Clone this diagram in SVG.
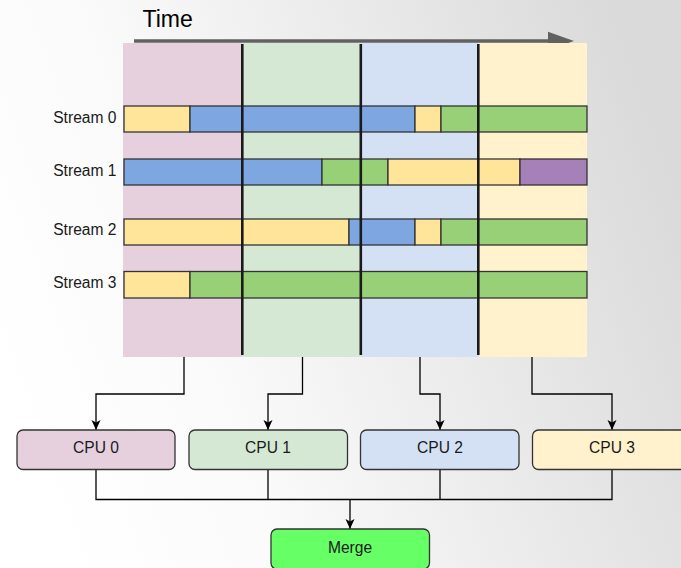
<svg xmlns="http://www.w3.org/2000/svg" width="681" height="568" viewBox="0 0 681 568">
<defs>
<linearGradient id="bg" x1="0" y1="0.65" x2="1" y2="0.35">
<stop offset="0" stop-color="#ffffff"/>
<stop offset="0.3" stop-color="#fafafa"/>
<stop offset="1" stop-color="#dadada"/>
</linearGradient>
<marker id="arr" markerWidth="10" markerHeight="10" viewBox="0 0 10 10" refX="10" refY="5" orient="auto" markerUnits="userSpaceOnUse">
<path d="M0,0.5 L10,5 L0,9.5 L2.5,5 Z" fill="#000"/>
</marker>
</defs>
<style>
.lbl{font-family:"Liberation Sans",Arial,sans-serif;font-size:15.6px;fill:#1a1a1a}
.bar{stroke:#333;stroke-width:1.3}
.y{fill:#ffe599}.b{fill:#7ea6e0}.g{fill:#97d077}.p{fill:#a680b8}
.col{stroke:#1a1a1a;stroke-width:2.6}
.box{stroke:#333;stroke-width:1.3}
.con{fill:none;stroke:#000;stroke-width:1.3}
</style>
<rect width="681" height="568" fill="url(#bg)"/>

<g id="time-axis">
<text x="142.5" y="26.5" style="font-family:'Liberation Sans',Arial,sans-serif;font-size:23px;fill:#000">Time</text>
<line x1="134" y1="41" x2="552" y2="41" stroke="#616161" stroke-width="3.5"/>
<path d="M548,31.7 L574,41 L548,50 Z" fill="#616161"/>
</g>

<g id="timeline">
<rect x="123" y="43" width="119" height="314" fill="#e6d0de"/>
<rect x="242" y="43" width="119" height="314" fill="#d5e8d4"/>
<rect x="361" y="43" width="118" height="314" fill="#d4e1f5"/>
<rect x="479" y="43" width="108" height="314" fill="#fff2cc"/>

<g id="stream0">
<text class="lbl" x="116.5" y="122.7" text-anchor="end">Stream 0</text>
<rect class="bar y" x="124" y="106" width="66" height="26"/>
<rect class="bar b" x="190" y="106" width="225" height="26"/>
<rect class="bar y" x="415" y="106" width="26" height="26"/>
<rect class="bar g" x="441" y="106" width="146" height="26"/>
</g>
<g id="stream1">
<text class="lbl" x="116.5" y="176" text-anchor="end">Stream 1</text>
<rect class="bar b" x="124" y="159" width="198" height="26"/>
<rect class="bar g" x="322" y="159" width="66" height="26"/>
<rect class="bar y" x="388" y="159" width="132" height="26"/>
<rect class="bar p" x="520" y="159" width="67" height="26"/>
</g>
<g id="stream2">
<text class="lbl" x="116.5" y="235" text-anchor="end">Stream 2</text>
<rect class="bar y" x="124" y="219" width="225" height="26"/>
<rect class="bar b" x="349" y="219" width="66" height="26"/>
<rect class="bar y" x="415" y="219" width="26" height="26"/>
<rect class="bar g" x="441" y="219" width="146" height="26"/>
</g>
<g id="stream3">
<text class="lbl" x="116.5" y="288" text-anchor="end">Stream 3</text>
<rect class="bar y" x="124" y="271.5" width="66" height="26.5"/>
<rect class="bar g" x="190" y="271.5" width="397" height="26.5"/>
</g>

<line class="col" x1="242.3" y1="44" x2="242.3" y2="355"/>
<line class="col" x1="360.8" y1="44" x2="360.8" y2="355"/>
<line class="col" x1="478.3" y1="44" x2="478.3" y2="355"/>
</g>

<g id="connectors">
<polyline class="con" points="184,357 184,394 96,394 96,430" marker-end="url(#arr)"/>
<polyline class="con" points="302.5,357 302.5,394 268,394 268,430" marker-end="url(#arr)"/>
<polyline class="con" points="420,357 420,394 440,394 440,430" marker-end="url(#arr)"/>
<polyline class="con" points="532,357 532,394 612,394 612,430" marker-end="url(#arr)"/>
<polyline class="con" points="96,470 96,499.5 612,499.5 612,470"/>
<line class="con" x1="268" y1="470" x2="268" y2="499.5"/>
<line class="con" x1="440" y1="470" x2="440" y2="499.5"/>
<line class="con" x1="350" y1="499.5" x2="350" y2="529" marker-end="url(#arr)"/>
</g>

<g id="cpu0">
<rect class="box" x="17" y="430" width="158" height="39.5" rx="6" fill="#e6d0de"/>
<text class="lbl" x="96" y="453.3" text-anchor="middle">CPU 0</text>
</g>
<g id="cpu1">
<rect class="box" x="189" y="430" width="158.5" height="39.5" rx="6" fill="#d5e8d4"/>
<text class="lbl" x="268" y="453.3" text-anchor="middle">CPU 1</text>
</g>
<g id="cpu2">
<rect class="box" x="360.5" y="430" width="158.5" height="39.5" rx="6" fill="#d4e1f5"/>
<text class="lbl" x="440" y="453.3" text-anchor="middle">CPU 2</text>
</g>
<g id="cpu3">
<rect class="box" x="532.5" y="430" width="158.5" height="39.5" rx="6" fill="#fff2cc"/>
<text class="lbl" x="612" y="453.3" text-anchor="middle">CPU 3</text>
</g>
<g id="merge">
<rect class="box" x="271" y="529" width="158.5" height="40" rx="6" fill="#66ff66"/>
<text class="lbl" x="350" y="552.5" text-anchor="middle">Merge</text>
</g>
</svg>
